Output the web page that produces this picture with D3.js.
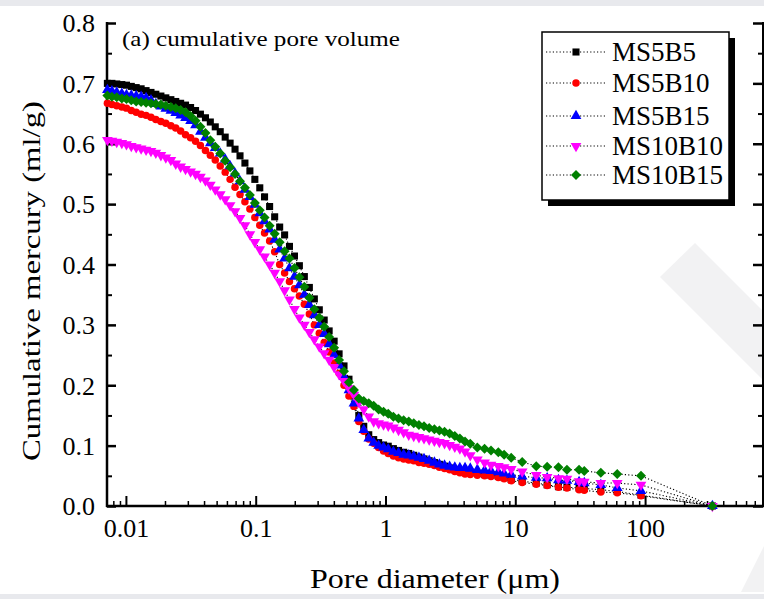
<!DOCTYPE html>
<html>
<head>
<meta charset="utf-8">
<script src="https://cdn.jsdelivr.net/npm/d3@7"></script>
<style>
  html, body { margin: 0; padding: 0; background: #fff; }
  svg { display: block; }
  text { font-family: "Liberation Serif", "Times New Roman", serif; fill: #000; }
</style>
</head>
<body>
<svg id="chart" width="764" height="599"></svg>
<script>
// ---------------- DATA ----------------
const seriesNames = ["MS5B5", "MS5B10", "MS5B15", "MS10B10", "MS10B15"];

// pore diameter (µm)
const diameters = [
  0.0072, 0.0078, 0.0085, 0.0093, 0.0101, 0.011, 0.012, 0.0131, 0.0143, 0.0156,
  0.017, 0.0186, 0.0203, 0.0222, 0.0242, 0.0264, 0.0288, 0.0315, 0.0344, 0.0375,
  0.041, 0.0447, 0.0488, 0.0533, 0.0582, 0.0635, 0.0693, 0.0757, 0.0826, 0.0902,
  0.0985, 0.1075, 0.117, 0.128, 0.140, 0.153, 0.167, 0.182, 0.199, 0.217,
  0.237, 0.259, 0.283, 0.309, 0.337, 0.368, 0.402, 0.439, 0.479, 0.523,
  0.571, 0.623, 0.68, 0.743, 0.811, 0.885, 0.966, 1.05, 1.15, 1.26,
  1.38, 1.51, 1.65, 1.81, 1.98, 2.17, 2.38, 2.6, 2.85, 3.12,
  3.42, 3.74, 4.1, 4.5, 5.1, 5.8, 6.5, 7.4, 8.2, 9.3,
  11.3, 14.5, 17.6, 21.5, 25, 31, 34, 45.6, 61, 93,
  330
];

// cumulative mercury (ml/g)
const MS5B5 = [
  .700, .700, .699, .698, .697, .695, .693, .691, .688, .685,
  .682, .679, .676, .673, .670, .667, .664, .660, .655, .649,
  .643, .636, .628, .620, .611, .601, .591, .580, .568, .555,
  .541, .527, .512, .496, .479, .462, .449, .430, .414, .398,
  .380, .362, .343, .325, .308, .290, .273, .252, .232, .210,
  .182, .150, .132, .118, .110, .105, .101, .099, .095, .092,
  .089, .087, .084, .081, .078, .075, .072, .069, .066, .063,
  .060, .058, .057, .056, .054, .052, .051, .049, .047, .044,
  .041, .038, .035, .032, .031, .030, .029, .027, .024, .018,
  0
];
const MS5B10 = [
  .667, .665, .663, .661, .659, .655, .652, .649, .647, .644,
  .640, .637, .634, .630, .626, .621, .615, .610, .604, .597,
  .589, .581, .573, .563, .553, .541, .528, .516, .504, .492,
  .478, .465, .452, .439, .421, .400, .386, .372, .360, .348,
  .334, .318, .300, .286, .271, .255, .237, .220, .200, .182,
  .165, .140, .124, .111, .104, .097, .091, .087, .083, .080,
  .078, .076, .075, .072, .071, .069, .067, .064, .062, .060,
  .057, .055, .053, .052, .051, .050, .049, .047, .045, .042,
  .039, .036, .034, .031, .030, .027, .026, .023, .022, .017,
  0
];
const MS5B15 = [
  .689, .687, .685, .683, .681, .680, .679, .678, .676, .672,
  .666, .662, .658, .655, .651, .647, .643, .638, .631, .620,
  .610, .601, .593, .584, .574, .563, .551, .538, .524, .512,
  .499, .485, .472, .458, .441, .425, .410, .394, .380, .366,
  .350, .333, .316, .300, .285, .268, .250, .233, .214, .192,
  .170, .145, .126, .112, .105, .100, .097, .094, .090, .088,
  .085, .084, .082, .080, .078, .075, .072, .069, .067, .065,
  .064, .063, .063, .062, .060, .059, .058, .056, .054, .052,
  .049, .047, .046, .043, .042, .040, .038, .035, .030, .025,
  0
];
const MS10B10 = [
  .606, .605, .603, .601, .599, .596, .594, .592, .590, .588,
  .585, .581, .577, .573, .567, .562, .558, .554, .550, .545,
  .539, .532, .524, .516, .508, .498, .488, .477, .465, .450,
  .437, .425, .413, .400, .386, .372, .357, .342, .326, .312,
  .300, .288, .276, .264, .253, .242, .230, .218, .207, .195,
  .184, .172, .160, .148, .140, .137, .135, .133, .130, .126,
  .122, .118, .116, .114, .112, .110, .108, .106, .104, .101,
  .098, .095, .090, .084, .077, .072, .068, .066, .064, .061,
  .057, .051, .048, .046, .045, .041, .040, .038, .038, .035,
  0
];
const MS10B15 = [
  .680, .678, .677, .675, .674, .672, .670, .669, .668, .667,
  .666, .665, .663, .661, .659, .656, .652, .646, .638, .628,
  .618, .606, .595, .584, .572, .561, .550, .538, .527, .515,
  .502, .490, .478, .464, .451, .437, .422, .410, .394, .379,
  .363, .345, .326, .312, .297, .280, .262, .242, .223, .205,
  .192, .178, .174, .170, .166, .160, .156, .153, .148, .145,
  .142, .140, .137, .134, .132, .129, .127, .125, .123, .120,
  .116, .112, .107, .103, .097, .095, .092, .089, .085, .080,
  .073, .066, .065, .064, .060, .060, .058, .055, .053, .050,
  0
];
const seriesValues = [MS5B5, MS5B10, MS5B15, MS10B10, MS10B15];
const seriesColors = ["#000000", "#ff0000", "#0000ff", "#ff00ff", "#008000"];

const xTickValues = [0.01, 0.1, 1, 10, 100];
const xTickLabels = ["0.01", "0.1", "1", "10", "100"];
const yTickValues = [0, 0.1, 0.2, 0.3, 0.4, 0.5, 0.6, 0.7, 0.8];
const yTickLabels = ["0.0", "0.1", "0.2", "0.3", "0.4", "0.5", "0.6", "0.7", "0.8"];

const xTitle = "Pore diameter (\u03bcm)";
const yTitle = "Cumulative mercury (ml/g)";
const panelTitle = "(a) cumulative pore volume";

// ---------------- DRAW ----------------
(function () {
const svg = d3.select("#chart");
const W = 764, H = 599;
const pLeft = 107, pRight = 763, pTop = 23, pBottom = 506;

// background strips & faint watermark
svg.append("rect").attr("x", 0).attr("y", 0).attr("width", W).attr("height", 6).attr("fill", "#e8e9ed");
svg.append("rect").attr("x", 0).attr("y", 594).attr("width", W).attr("height", 5).attr("fill", "#e8e9ed");
svg.append("polygon").attr("points", "660,277 695,243 764,312 764,381").attr("fill", "#f2f2f3");
svg.append("polygon").attr("points", "741,592 764,546 764,592").attr("fill", "#f2f2f3");

const x = d3.scaleLog().domain([0.00715, 810]).range([pLeft, pRight]);
const y = d3.scaleLinear().domain([0, 0.8]).range([pBottom, pTop]);

// minor tick values
const xMinor = [];
[0.001, 0.01, 0.1, 1, 10, 100].forEach(dec => {
  for (let k = 2; k <= 9; k++) {
    const v = dec * k;
    if (v > 0.00715 && v < 810) xMinor.push(v);
  }
});
const yMinor = [0.05, 0.15, 0.25, 0.35, 0.45, 0.55, 0.65, 0.75];

function styleAxis(g, w) {
  g.select(".domain").remove();
  g.selectAll("line").attr("stroke", "#000").attr("stroke-width", w);
  g.selectAll("text").style("font-family", '"Liberation Serif", "Times New Roman", serif').style("font-size", "26px").attr("fill", "#000");
}

// x axis
svg.append("g").attr("transform", `translate(0,${pBottom})`)
  .call(d3.axisBottom(x).tickValues(xMinor).tickSize(-5).tickFormat(""))
  .call(g => styleAxis(g, 1.5));
svg.append("g").attr("transform", `translate(0,${pBottom})`)
  .call(d3.axisBottom(x).tickValues(xTickValues).tickSize(-10).tickPadding(30)
        .tickFormat((d, i) => xTickLabels[i]))
  .call(g => styleAxis(g, 2))
  .call(g => g.selectAll("text").attr("dy", null).attr("y", 31));

// left y axis
svg.append("g").attr("transform", `translate(${pLeft},0)`)
  .call(d3.axisLeft(y).tickValues(yMinor).tickSize(-5).tickFormat(""))
  .call(g => styleAxis(g, 2));
svg.append("g").attr("transform", `translate(${pLeft},0)`)
  .call(d3.axisLeft(y).tickValues(yTickValues).tickSize(-9).tickPadding(12)
        .tickFormat((d, i) => yTickLabels[i]))
  .call(g => styleAxis(g, 2.5))
  .call(g => g.selectAll("text").attr("dy", "0.34em"));

// right y axis (ticks inward, no labels)
svg.append("g").attr("transform", `translate(${pRight},0)`)
  .call(d3.axisRight(y).tickValues(yMinor).tickSize(-5).tickFormat(""))
  .call(g => styleAxis(g, 2));
svg.append("g").attr("transform", `translate(${pRight},0)`)
  .call(d3.axisRight(y).tickValues(yTickValues).tickSize(-10).tickFormat(""))
  .call(g => styleAxis(g, 2.5));

// axis lines
svg.append("line").attr("x1", pLeft).attr("x2", pLeft).attr("y1", pTop - 1).attr("y2", pBottom + 1)
  .attr("stroke", "#000").attr("stroke-width", 2.5);
svg.append("line").attr("x1", pLeft - 1).attr("x2", W).attr("y1", pBottom).attr("y2", pBottom)
  .attr("stroke", "#000").attr("stroke-width", 2.5);
svg.append("line").attr("x1", pRight).attr("x2", pRight).attr("y1", pTop - 1).attr("y2", pBottom)
  .attr("stroke", "#000").attr("stroke-width", 2);

// symbols
const downTriangle = {
  draw(ctx, size) {
    const s = Math.sqrt(size / (Math.sqrt(3) / 4));
    const h = s * Math.sqrt(3) / 2;
    ctx.moveTo(-s / 2, -h / 3);
    ctx.lineTo(s / 2, -h / 3);
    ctx.lineTo(0, 2 * h / 3);
    ctx.closePath();
  }
};
const wideDiamond = {
  draw(ctx, size) {
    const r = Math.sqrt(size / 2);
    ctx.moveTo(0, -r); ctx.lineTo(r, 0); ctx.lineTo(0, r); ctx.lineTo(-r, 0); ctx.closePath();
  }
};
const symbolTypes = [d3.symbolSquare, d3.symbolCircle, d3.symbolTriangle, downTriangle, wideDiamond];
const symbolSizes = [50, 44, 50, 50, 50];

const line = d3.line().x(d => x(d[0])).y(d => y(d[1]));
const plot = svg.append("g");

seriesValues.forEach((vals, si) => {
  const pts = diameters.map((d, i) => [d, vals[i]]);
  plot.append("path").datum(pts).attr("d", line)
    .attr("fill", "none").attr("stroke", "#000").attr("stroke-width", 1.1)
    .attr("stroke-dasharray", "1.2,2.2");
});
seriesValues.forEach((vals, si) => {
  const pts = diameters.map((d, i) => [d, vals[i]]);
  const sym = d3.symbol().type(symbolTypes[si]).size(symbolSizes[si]);
  plot.append("g").selectAll("path").data(pts).join("path")
    .attr("transform", d => `translate(${x(d[0])},${y(d[1])})`)
    .attr("d", sym).attr("fill", seriesColors[si]);
});

// panel title
svg.append("text").attr("x", 122).attr("y", 46).text(panelTitle)
  .style("font-size", "21px").attr("textLength", 278).attr("lengthAdjust", "spacingAndGlyphs");

// axis titles
svg.append("text").attr("x", 310).attr("y", 588).text(xTitle)
  .style("font-size", "28px").attr("textLength", 250).attr("lengthAdjust", "spacingAndGlyphs");
svg.append("text").attr("transform", "translate(40,461) rotate(-90)").text(yTitle)
  .style("font-size", "26px").attr("textLength", 360).attr("lengthAdjust", "spacingAndGlyphs");

// legend
const lg = svg.append("g");
lg.append("rect").attr("x", 548).attr("y", 38).attr("width", 187).attr("height", 168).attr("fill", "#000");
lg.append("rect").attr("x", 542).attr("y", 32).attr("width", 187).attr("height", 168)
  .attr("fill", "#fff").attr("stroke", "#000").attr("stroke-width", 1.5);
const legendY = [52, 83, 116, 146, 175];
seriesNames.forEach((name, i) => {
  const cy = legendY[i];
  lg.append("line").attr("x1", 546).attr("x2", 606).attr("y1", cy).attr("y2", cy)
    .attr("stroke", "#000").attr("stroke-width", 1.1).attr("stroke-dasharray", "1.2,2.2");
  lg.append("path").attr("transform", `translate(576,${cy})`)
    .attr("d", d3.symbol().type(symbolTypes[i]).size(symbolSizes[i])()).attr("fill", seriesColors[i]);
  lg.append("text").attr("x", 612).attr("y", cy + 9).text(name).style("font-size", "27px");
});
})();
</script>
</body>
</html>
